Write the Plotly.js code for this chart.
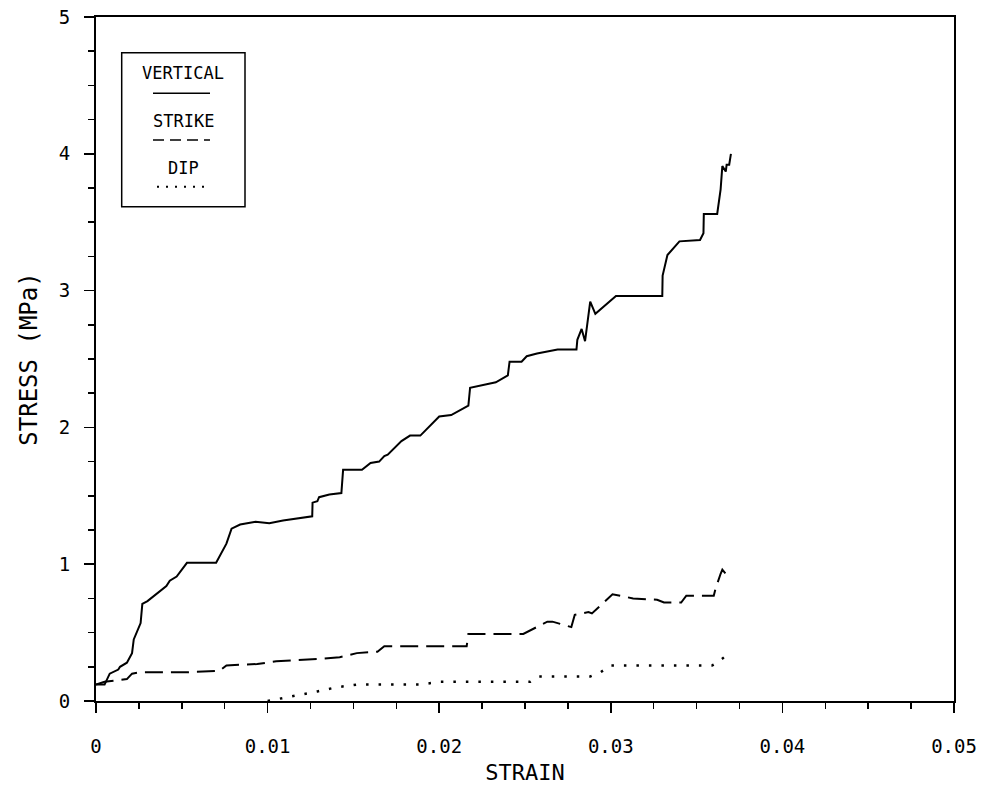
<!DOCTYPE html>
<html>
<head>
<meta charset="utf-8">
<script src="https://cdn.plot.ly/plotly-3.0.1.min.js"></script>
<style>
html,body{margin:0;padding:0;background:#fff;}
#chart{width:983px;height:788px;}
</style>
</head>
<body>
<div id="chart"></div>
<script>
// ---- data ----
const verticalStrain = [0.0000,0.0005,0.0008,0.0013,0.0014,0.0018,0.0021,0.0022,0.0026,0.0027,0.0030,0.0034,0.0041,0.0043,0.0047,0.0053,0.0070,0.0076,0.0079,0.0084,0.0093,0.0101,0.0109,0.0126,0.01262,0.0129,0.0130,0.0136,0.0143,0.0144,0.0155,0.0160,0.0165,0.0168,0.0170,0.0178,0.0183,0.0189,0.0200,0.0207,0.0217,0.0218,0.0226,0.0233,0.0240,0.0241,0.0248,0.0251,0.0257,0.0269,0.0280,0.02805,0.0283,0.0285,0.0288,0.0291,0.0303,0.0330,0.03302,0.0333,0.0340,0.0352,0.0354,0.03542,0.0362,0.0364,0.0365,0.0367,0.03675,0.0369,0.0370];
const verticalStress = [0.12,0.12,0.20,0.23,0.25,0.28,0.35,0.45,0.57,0.71,0.73,0.77,0.84,0.88,0.91,1.01,1.01,1.15,1.26,1.29,1.31,1.30,1.32,1.35,1.45,1.46,1.49,1.51,1.52,1.69,1.69,1.74,1.75,1.79,1.80,1.90,1.94,1.94,2.08,2.09,2.16,2.29,2.31,2.33,2.38,2.48,2.48,2.52,2.54,2.57,2.57,2.64,2.72,2.63,2.92,2.83,2.96,2.96,3.11,3.26,3.36,3.37,3.42,3.56,3.56,3.74,3.91,3.87,3.92,3.92,4.00];

const strikeStrain = [0.0000,0.0005,0.0018,0.0021,0.0026,0.0053,0.0072,0.0076,0.0094,0.0105,0.0132,0.0142,0.0152,0.0164,0.0168,0.0189,0.0216,0.0217,0.0249,0.0263,0.0266,0.0277,0.0279,0.0287,0.0289,0.0301,0.0313,0.0327,0.0331,0.0341,0.0344,0.0360,0.0361,0.0364,0.0365,0.0367];
const strikeStress = [0.12,0.14,0.16,0.20,0.21,0.21,0.22,0.26,0.27,0.29,0.31,0.32,0.35,0.36,0.40,0.40,0.40,0.49,0.49,0.58,0.58,0.54,0.63,0.65,0.64,0.78,0.75,0.74,0.72,0.72,0.77,0.77,0.82,0.93,0.96,0.93];

const dipStrain = [0.0100,0.0109,0.0117,0.0129,0.0140,0.0152,0.0189,0.0200,0.0253,0.0258,0.0288,0.0294,0.0300,0.0352,0.0359,0.0362,0.0366];
const dipStress = [0.00,0.02,0.04,0.07,0.10,0.12,0.12,0.14,0.14,0.18,0.18,0.21,0.26,0.26,0.26,0.28,0.32];

const seriesNames = ["VERTICAL","STRIKE","DIP"];
const xTickVals = [0,0.01,0.02,0.03,0.04,0.05];
const xTickText = ["0","0.01","0.02","0.03","0.04","0.05"];
const yTickVals = [0,1,2,3,4,5];
const yTickText = ["0","1","2","3","4","5"];

const traces = [
  {x: verticalStrain, y: verticalStress, name: seriesNames[0], mode: "lines",
   line: {color: "#000", width: 2}},
  {x: strikeStrain, y: strikeStress, name: seriesNames[1], mode: "lines",
   line: {color: "#000", width: 2, dash: "18px,8px"}},
  {x: dipStrain, y: dipStress, name: seriesNames[2], mode: "lines",
   line: {color: "#000", width: 2.5, dash: "2.5px,10px"}}
];

const mono = "DejaVu Sans Mono";
const bx = v => (v - 96) / 858;
const by = v => (701 - v) / 684;

const shapes = [
  {type: "rect", xref: "paper", yref: "paper", x0: bx(121.7), x1: bx(245), y0: by(206.7), y1: by(52.7),
   line: {color: "#000", width: 1.5}, fillcolor: "rgba(0,0,0,0)"},
  {type: "line", xref: "paper", yref: "paper", x0: bx(153), x1: bx(210), y0: by(93.3), y1: by(93.3),
   line: {color: "#000", width: 1.5}},
  {type: "line", xref: "paper", yref: "paper", x0: bx(153), x1: bx(210), y0: by(140), y1: by(140),
   line: {color: "#000", width: 1.5, dash: "11px,6px"}},
  {type: "line", xref: "paper", yref: "paper", x0: bx(157), x1: bx(210), y0: by(186.7), y1: by(186.7),
   line: {color: "#000", width: 2, dash: "2px,7px"}}
];
const legY = [73.3, 120.7, 168];
const annotations = seriesNames.map((n, i) => ({
  text: n, xref: "paper", yref: "paper", x: bx(183.4), y: by(legY[i]),
  xanchor: "center", yanchor: "middle", showarrow: false,
  font: {family: mono, size: 17, color: "#000"}
}));

const layout = {
  width: 983, height: 788,
  margin: {l: 96, r: 29, t: 17, b: 87},
  paper_bgcolor: "#fff", plot_bgcolor: "#fff",
  showlegend: false,
  shapes: shapes,
  annotations: annotations,
  xaxis: {
    range: [0, 0.05], tickvals: xTickVals, ticktext: xTickText,
    ticks: "outside", ticklen: 10, tickwidth: 1.5, tickcolor: "#000",
    minor: {dtick: 0.0025, ticks: "outside", ticklen: 6, tickwidth: 1.5, tickcolor: "#000", showgrid: false},
    showline: true, linecolor: "#000", linewidth: 2, mirror: true,
    showgrid: false, zeroline: false,
    ticklabelstandoff: 17,
    tickfont: {family: mono, size: 19, color: "#000"},
    title: {text: "STRAIN", font: {family: mono, size: 22, color: "#000"}, standoff: 9}
  },
  yaxis: {
    range: [0, 5], tickvals: yTickVals, ticktext: yTickText,
    ticks: "outside", ticklen: 10, tickwidth: 1.5, tickcolor: "#000",
    minor: {dtick: 0.25, ticks: "outside", ticklen: 6, tickwidth: 1.5, tickcolor: "#000", showgrid: false},
    showline: true, linecolor: "#000", linewidth: 2, mirror: true,
    showgrid: false, zeroline: false,
    ticklabelstandoff: 10,
    tickfont: {family: mono, size: 19, color: "#000"},
    title: {text: "STRESS (MPa)", font: {family: mono, size: 24, color: "#000"}, standoff: 14}
  }
};

Plotly.newPlot("chart", traces, layout, {staticPlot: true, displayModeBar: false});
</script>
</body>
</html>
